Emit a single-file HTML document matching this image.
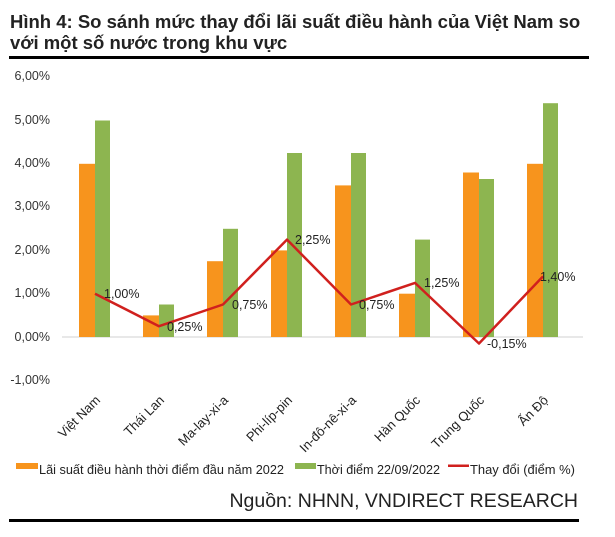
<!DOCTYPE html>
<html><head><meta charset="utf-8"><style>
body{margin:0;background:#fff;}
svg{display:block;font-family:"Liberation Sans",Arial,sans-serif;}
</style></head><body>
<svg width="615" height="537" viewBox="0 0 615 537" xmlns="http://www.w3.org/2000/svg">
<rect width="615" height="537" fill="#fff"/>
<text x="10" y="28" font-size="18.5" font-weight="bold" fill="#222">Hình 4: So sánh mức thay đổi lãi suất điều hành của Việt Nam so</text>
<text x="10" y="49" font-size="18.5" font-weight="bold" fill="#222">với một số nước trong khu vực</text>
<rect x="9" y="56" width="580" height="3" fill="#000"/>
<g font-size="12.5" fill="#333" text-anchor="end">
<text x="50" y="80">6,00%</text>
<text x="50" y="124">5,00%</text>
<text x="50" y="167">4,00%</text>
<text x="50" y="210">3,00%</text>
<text x="50" y="254">2,00%</text>
<text x="50" y="297">1,00%</text>
<text x="50" y="341">0,00%</text>
<text x="50" y="384">-1,00%</text>
</g>
<line x1="62" y1="337" x2="583" y2="337" stroke="#d0d0d0" stroke-width="1"/>
<g>
<rect x="79" y="163.8" width="16" height="173.2" fill="#f7941d"/><rect x="95" y="120.5" width="15" height="216.5" fill="#8db550"/>
<rect x="143" y="315.4" width="16" height="21.6" fill="#f7941d"/><rect x="159" y="304.5" width="15" height="32.5" fill="#8db550"/>
<rect x="207" y="261.2" width="16" height="75.8" fill="#f7941d"/><rect x="223" y="228.8" width="15" height="108.2" fill="#8db550"/>
<rect x="271" y="250.4" width="16" height="86.6" fill="#f7941d"/><rect x="287" y="153" width="15" height="184" fill="#8db550"/>
<rect x="335" y="185.4" width="16" height="151.6" fill="#f7941d"/><rect x="351" y="153" width="15" height="184" fill="#8db550"/>
<rect x="399" y="293.7" width="16" height="43.3" fill="#f7941d"/><rect x="415" y="239.6" width="15" height="97.4" fill="#8db550"/>
<rect x="463" y="172.5" width="16" height="164.5" fill="#f7941d"/><rect x="479" y="179" width="15" height="158" fill="#8db550"/>
<rect x="527" y="163.8" width="16" height="173.2" fill="#f7941d"/><rect x="543" y="103.2" width="15" height="233.8" fill="#8db550"/>
</g>
<polyline points="95,293.7 159,326.2 223,304.5 287,239.6 351,304.5 415,282.9 479,343.5 543,276.4" fill="none" stroke="#d0201e" stroke-width="2.5" stroke-linejoin="round"/>
<g font-size="12.5" fill="#222">
<text x="104" y="298">1,00%</text>
<text x="167" y="331">0,25%</text>
<text x="232" y="309">0,75%</text>
<text x="295" y="244">2,25%</text>
<text x="359" y="309">0,75%</text>
<text x="424" y="287">1,25%</text>
<text x="487" y="348">-0,15%</text>
<text x="540" y="281">1,40%</text>
</g>
<g font-size="13" fill="#222" text-anchor="end">
<text transform="translate(101,401) rotate(-45)">Việt Nam</text>
<text transform="translate(165,401) rotate(-45)">Thái Lan</text>
<text transform="translate(229,401) rotate(-45)">Ma-lay-xi-a</text>
<text transform="translate(293,401) rotate(-45)">Phi-líp-pin</text>
<text transform="translate(357,401) rotate(-45)">In-đô-nê-xi-a</text>
<text transform="translate(421,401) rotate(-45)">Hàn Quốc</text>
<text transform="translate(485,401) rotate(-45)">Trung Quốc</text>
<text transform="translate(549,401) rotate(-45)">Ấn Độ</text>
</g>
<g font-size="13" fill="#222">
<rect x="16" y="463" width="22" height="6" fill="#f7941d"/>
<text x="39" y="474" textLength="245" lengthAdjust="spacingAndGlyphs">Lãi suất điều hành thời điểm đầu năm 2022</text>
<rect x="295" y="463" width="21" height="6" fill="#8db550"/>
<text x="317" y="474" textLength="123" lengthAdjust="spacingAndGlyphs">Thời điểm 22/09/2022</text>
<rect x="448" y="464.5" width="21" height="2.5" fill="#d0201e"/>
<text x="470" y="474" textLength="105" lengthAdjust="spacingAndGlyphs">Thay đổi (điểm %)</text>
</g>
<text x="578" y="507" font-size="19.5" fill="#222" text-anchor="end">Nguồn: NHNN, VNDIRECT RESEARCH</text>
<rect x="9" y="519" width="570" height="3" fill="#000"/>
</svg>
</body></html>
